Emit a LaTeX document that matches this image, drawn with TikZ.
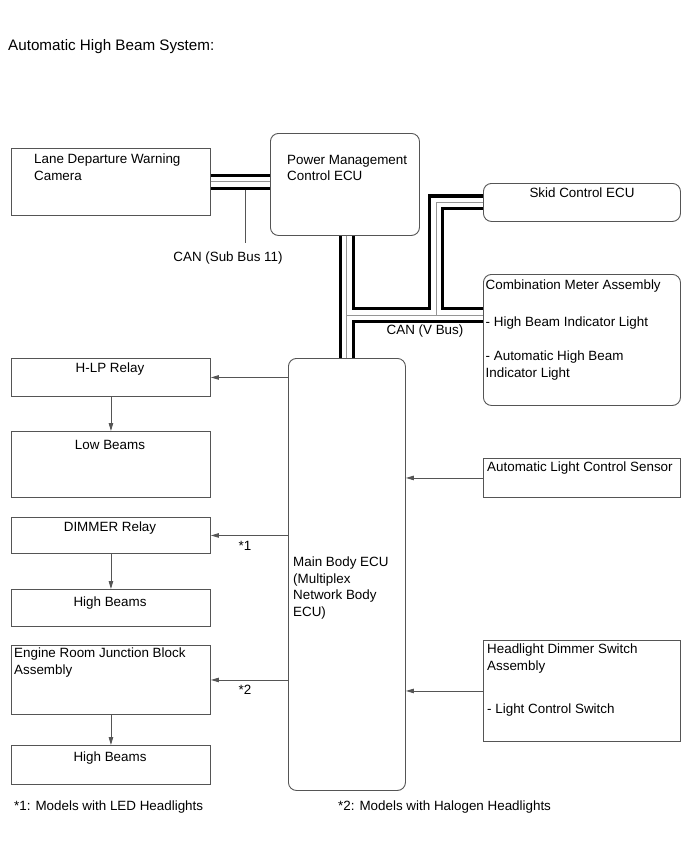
\documentclass[tikz,border=0pt]{standalone}
\usepackage{fontspec}
\setmainfont{Liberation Sans}
\usepackage{tikz}
\usetikzlibrary{arrows.meta,calc,positioning}
\definecolor{linegray}{RGB}{85,85,85}
\definecolor{busgray}{RGB}{150,150,150}

\begin{document}
\begin{tikzpicture}[x=1pt,y=-1pt,>={Triangle[length=8pt,width=4.5pt]},
    blk/.style={draw=linegray,line width=0.9pt,fill=white,anchor=north west,inner sep=0pt},
    rblk/.style={blk,rounded corners=8pt},
    txt/.style={font=\fontsize{13.4}{16.5}\selectfont,align=left,inner sep=0pt,anchor=north west},
    sig/.style={->,draw=linegray,line width=0.9pt},
    busblack/.style={line width=16pt,black,line join=miter},
    buswhite/.style={line width=9.5pt,white,line join=miter},
    busmid/.style={line width=1pt,busgray,line join=miter}]
    \useasboundingbox (0,0) rectangle (690,854);

    % Title
    \node[font=\fontsize{15.2}{18}\selectfont,anchor=north west,inner sep=0pt] (title) at (8,39) {Automatic High Beam System:};

    % Blocks
    \node[blk,minimum width=199pt,minimum height=67pt] (lane) at (11,148) {};
    \node[rblk,minimum width=149pt,minimum height=102pt] (pm) at (270,133) {};
    \node[rblk,minimum width=197pt,minimum height=38pt] (skid) at (483,183) {};
    \node[rblk,minimum width=197pt,minimum height=131pt] (comb) at (483,274) {};
    \node[blk,minimum width=199pt,minimum height=38pt] (hlp) at (11,358) {};
    \node[blk,minimum width=199pt,minimum height=66pt] (low) at (11,431) {};
    \node[blk,minimum width=199pt,minimum height=36pt] (dim) at (11,517) {};
    \node[blk,minimum width=199pt,minimum height=37pt] (high1) at (11,589) {};
    \node[blk,minimum width=199pt,minimum height=69pt] (erjb) at (11,645) {};
    \node[blk,minimum width=199pt,minimum height=39pt] (high2) at (11,745) {};
    \node[rblk,minimum width=117pt,minimum height=432pt] (main) at (288,358) {};
    \node[blk,minimum width=197pt,minimum height=39pt] (als) at (483,458) {};
    \node[blk,minimum width=197pt,minimum height=101pt] (hds) at (483,640) {};

    % Block texts
    \node[txt] (lanet) at (34,154) {Lane Departure Warning\\Camera};
    \node[txt] (pmt) at (287,155) {Power Management\\Control ECU};
    \node[txt,anchor=north] (skidt) at (582,188) {Skid Control ECU};
    \node[txt] (combt) at (485.5,280) {Combination Meter Assembly\\[20pt]- High Beam Indicator Light\\[18pt]- Automatic High Beam\\Indicator Light};
    \node[txt,anchor=north] (hlpt) at (110,363) {H-LP Relay};
    \node[txt,anchor=north] (lowt) at (110,440) {Low Beams};
    \node[txt,anchor=north] (dimt) at (110,522) {DIMMER Relay};
    \node[txt,anchor=north] (high1t) at (110,597) {High Beams};
    \node[txt] (erjbt) at (14,648) {Engine Room Junction Block\\Assembly};
    \node[txt,anchor=north] (high2t) at (110,752) {High Beams};
    \node[txt] (maint) at (293,557) {Main Body ECU\\(Multiplex\\Network Body\\ECU)};
    \node[txt] (alst) at (487,462) {Automatic Light Control Sensor};
    \node[txt] (hdst) at (487,644) {Headlight Dimmer Switch\\Assembly\\[27pt]- Light Control Switch};

    % CAN buses
    \coordinate (vj) at (346.5,315);
    \coordinate (sj) at (436,315);
    \foreach \s in {busblack,buswhite,busmid}{
        \draw[\s] (lane.east) -- (lane.east -| pm.west);
        \draw[\s] (main.north |- pm.south) -- (main.north)
            (vj) -- (vj -| comb.west)
            (sj) -- (sj |- skid.west) -- (skid.west);
    }
    \coordinate (tap) at (245,189.5);
    \draw[linegray,line width=0.9pt] (tap) -- ++(0,53.5);
    \node[txt,anchor=north] (subcan) at (228,252) {CAN (Sub Bus 11)};
    \node[txt,anchor=center] (vcan) at (425,331) {CAN (V Bus)};

    % Signals
    \draw[sig] (main.west |- hlp.east) -- (hlp.east);
    \draw[sig] (main.west |- dim.east) -- (dim.east);
    \draw[sig] (main.west |- erjb.east) -- (erjb.east);
    \draw[sig] (hlp.south) -- (low.north);
    \draw[sig] (dim.south) -- (high1.north);
    \draw[sig] (erjb.south) -- (high2.north);
    \draw[sig] (als.west) -- (als.west -| main.east);
    \draw[sig] (hds.west) -- (hds.west -| main.east);
    \node[txt,anchor=center] (n1) at (245,546) {*1};
    \node[txt,anchor=center] (n2) at (245,690) {*2};

    % Notes
    \node[txt] (fn1) at (14,801) {*1: Models with LED Headlights};
    \node[txt] (fn2) at (338,801) {*2: Models with Halogen Headlights};
\end{tikzpicture}
\end{document}
